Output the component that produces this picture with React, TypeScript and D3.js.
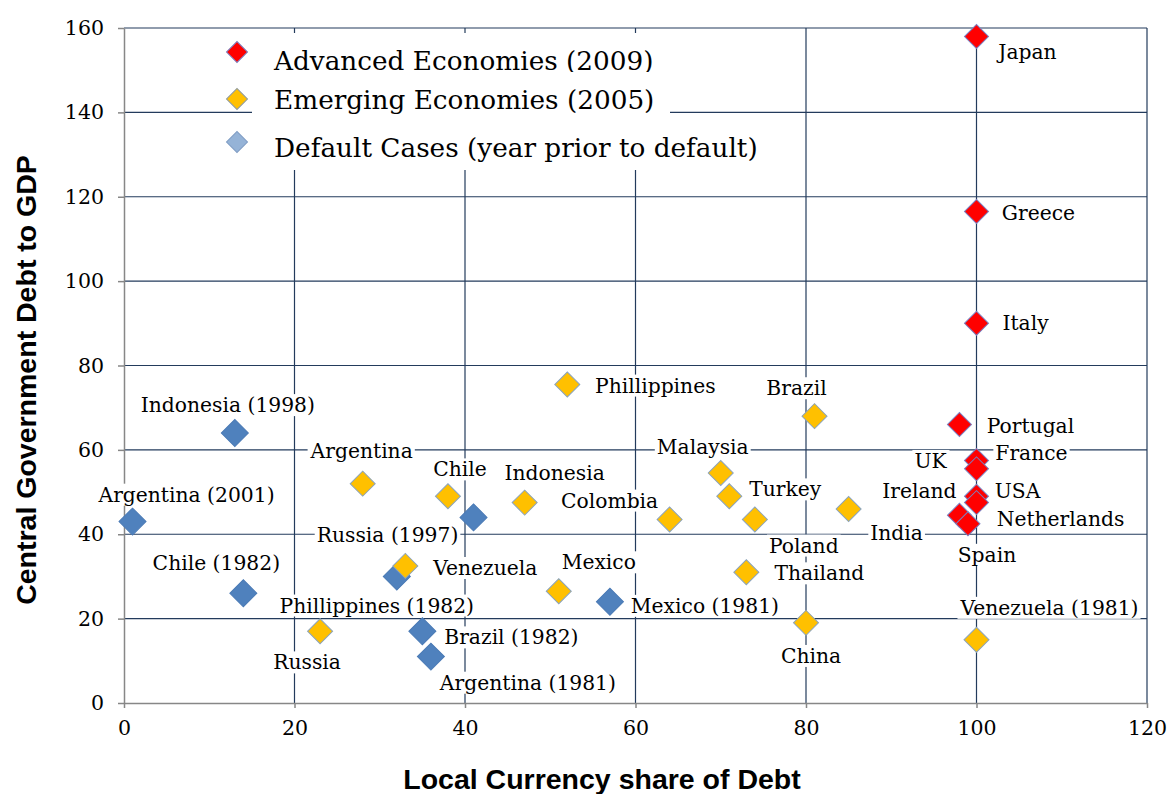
import React, { useEffect, useRef } from "react";
import * as d3 from "d3";

// Advanced economies (2009)
const advNames = ["Japan", "Greece", "Italy", "Portugal", "France", "UK", "USA", "Netherlands", "Ireland", "Spain"];
const advX = [100, 100, 100, 98, 100, 100, 100, 100, 98, 99];
const advY = [158, 116.5, 90, 66, 57.5, 55.5, 49, 47.5, 44.5, 42.5];

// Emerging economies (2005)
const emNames = ["Phillippines", "Brazil", "Malaysia", "Chile", "Argentina", "Indonesia", "Turkey", "Colombia",
    "Poland", "India", "Venezuela", "Mexico", "Thailand", "China", "Russia", "Venezuela (1981)"];
const emX = [52, 81, 70, 38, 28, 47, 71, 64, 74, 85, 33, 51, 73, 80, 23, 100];
const emY = [75.5, 68, 54.5, 49, 52, 47.5, 49, 43.5, 43.5, 46, 32.5, 26.5, 31, 19, 17, 15];

// Default cases (year prior to default)
const defNames = ["Indonesia (1998)", "Argentina (2001)", "Chile (1982)", "Russia (1997)", "Phillippines (1982)",
    "Brazil (1982)", "Argentina (1981)", "Mexico (1981)"];
const defX = [13, 1, 14, 41, 32, 35, 36, 57];
const defY = [64, 43, 26, 44, 30, 17, 11, 24];

const xTicks = [0, 20, 40, 60, 80, 100, 120];
const yTicks = [0, 20, 40, 60, 80, 100, 120, 140, 160];

const legendLabels = ["Advanced Economies (2009)", "Emerging Economies (2005)", "Default Cases (year prior to default)"];

// where each label sits relative to its marker (px)
const labelOffsets: Record<string, [number, number]> = {
    "Japan": [51, 15], "Greece": [62, 1], "Italy": [49, 0], "Portugal": [71, 1], "France": [55, -8],
    "UK": [-46, -8], "USA": [41, -5], "Netherlands": [84, 16], "Ireland": [-40, -24], "Spain": [19, 31],
    "Phillippines": [88, 1], "Brazil": [-18, -28], "Malaysia": [-18, -26], "Chile": [12, -27],
    "Argentina": [-1, -33], "Indonesia": [30, -30], "Turkey": [56, -7], "Colombia": [-60, -19],
    "Poland": [49, 26], "India": [48, 24], "Venezuela": [80, 2], "Mexico": [40, -29], "Thailand": [73, 1],
    "China": [5, 33], "Russia": [-13, 31], "Venezuela (1981)": [73, -32],
    "Indonesia (1998)": [-7, -28], "Argentina (2001)": [54, -27], "Chile (1982)": [-27, -30],
    "Russia (1997)": [-86, 18], "Phillippines (1982)": [-20, 29], "Brazil (1982)": [89, 6],
    "Mexico (1981)": [95, 4], "Argentina (1981)": [97, 26],
};

export default function App() {
    const ref = useRef<SVGSVGElement>(null);

    useEffect(() => {
        document.body.style.margin = "0";
        const width = 1169, height = 794;
        const margin = {top: 28, right: 22, bottom: 91, left: 124};
        const gridColor = "#233b5c";
        const axisColor = "#878787";
        const serif = "'DejaVu Serif', serif";
        const sans = "'Liberation Sans', Arial, sans-serif";

        const svg = d3.select(ref.current);
        svg.selectAll("*").remove();
        svg.append("rect").attr("width", width).attr("height", height).attr("fill", "#fff");

        const x = d3.scaleLinear().domain([0, 120]).range([margin.left, width - margin.right]);
        const y = d3.scaleLinear().domain([0, 160]).range([height - margin.bottom, margin.top]);

        // gridlines
        svg.append("g").selectAll("line").data(xTicks.slice(1)).join("line")
            .attr("x1", d => x(d)).attr("x2", d => x(d))
            .attr("y1", y(0)).attr("y2", y(160))
            .attr("stroke", gridColor).attr("stroke-width", 1.2);
        svg.append("g").selectAll("line").data(yTicks.slice(1)).join("line")
            .attr("y1", d => y(d)).attr("y2", d => y(d))
            .attr("x1", x(0)).attr("x2", x(120))
            .attr("stroke", gridColor).attr("stroke-width", 1.2);

        // axes
        const yAxis = svg.append("g")
            .attr("transform", `translate(${x(0)},0)`)
            .call(d3.axisLeft(y).tickValues(yTicks).tickSizeInner(6).tickSizeOuter(0).tickPadding(14));
        const xAxis = svg.append("g")
            .attr("transform", `translate(0,${y(0)})`)
            .call(d3.axisBottom(x).tickValues(xTicks).tickSizeInner(5).tickSizeOuter(0).tickPadding(12));
        [xAxis, yAxis].forEach(a => {
            a.select(".domain").attr("stroke", axisColor).attr("stroke-width", 1.5);
            a.selectAll(".tick line").attr("stroke", axisColor).attr("stroke-width", 1.5);
            a.selectAll(".tick text").attr("fill", "#000").style("font-family", serif).style("font-size", "20.5px");
        });

        // markers
        const series = [
            {names: defNames, xs: defX, ys: defY, fill: "#4f81bd", stroke: "#4a7ab5", size: 28},
            {names: emNames, xs: emX, ys: emY, fill: "#ffc000", stroke: "#8aa3bd", size: 26},
            {names: advNames, xs: advX, ys: advY, fill: "#ff0000", stroke: "#7b7fc0", size: 25},
        ];
        const diamond = (diag: number) => {
            const s = (diag - 1) / Math.SQRT2;
            return d3.symbol(d3.symbolSquare, s * s)();
        };
        series.forEach(s => {
            svg.append("g").selectAll("path").data(s.names).join("path")
                .attr("d", diamond(s.size))
                .attr("transform", (d, i) => `translate(${x(s.xs[i])},${y(s.ys[i])}) rotate(45)`)
                .attr("fill", s.fill).attr("stroke", s.stroke).attr("stroke-width", 1);
        });

        // labels on white boxes
        const labelLayer = svg.append("g");
        series.forEach(s => {
            s.names.forEach((name, i) => {
                const [dx, dy] = labelOffsets[name] || [0, 0];
                const g = labelLayer.append("g");
                const bg = g.append("rect").attr("fill", "#fff");
                const t = g.append("text")
                    .attr("x", x(s.xs[i]) + dx).attr("y", y(s.ys[i]) + dy).attr("dy", "0.35em")
                    .attr("text-anchor", "middle")
                    .style("font-family", serif).style("font-size", "20.3px").attr("fill", "#000")
                    .text(name);
                const b = (t.node() as SVGTextElement).getBBox();
                bg.attr("x", b.x - 2).attr("y", b.y + 1).attr("width", b.width + 4).attr("height", b.height - 2);
            });
        });

        // legend
        const legend = svg.append("g");
        legend.append("rect").attr("x", 252).attr("y", 33).attr("width", 418).attr("height", 137).attr("fill", "#fff");
        const legendFill = ["#ff0000", "#ffc000", "#95b3d7"];
        const legendStroke = ["#7b7fc0", "#8f9a9e", "#7f9cc4"];
        const rowY = [52, 99, 142];
        const baseY = [70, 109, 157];
        const clipBottom = [72, 114, 200];
        const defs = svg.append("defs");
        legendLabels.forEach((lab, i) => {
            defs.append("clipPath").attr("id", `legclip${i}`)
                .append("rect").attr("x", 200).attr("y", baseY[i] - 40).attr("width", 700)
                .attr("height", clipBottom[i] - baseY[i] + 40);
            legend.append("path").attr("d", diamond(22))
                .attr("transform", `translate(237,${rowY[i]}) rotate(45)`)
                .attr("fill", legendFill[i]).attr("stroke", legendStroke[i]).attr("stroke-width", 1);
            legend.append("text").attr("x", 274).attr("y", baseY[i])
                .attr("clip-path", `url(#legclip${i})`)
                .style("font-family", serif).style("font-size", "26.3px").attr("fill", "#000")
                .text(lab);
        });

        // axis titles
        svg.append("text")
            .attr("transform", `translate(36,380) rotate(-90)`)
            .attr("text-anchor", "middle")
            .style("font-family", sans).style("font-weight", "bold")
            .style("font-size", "28.5px").text("Central Government Debt to GDP");
        svg.append("text")
            .attr("x", 602).attr("y", 789)
            .attr("text-anchor", "middle")
            .style("font-family", sans).style("font-weight", "bold")
            .style("font-size", "28.5px").text("Local Currency share of Debt");
    }, []);

    return <svg ref={ref} width={1169} height={794} style={{display: "block"}}/>;
}
